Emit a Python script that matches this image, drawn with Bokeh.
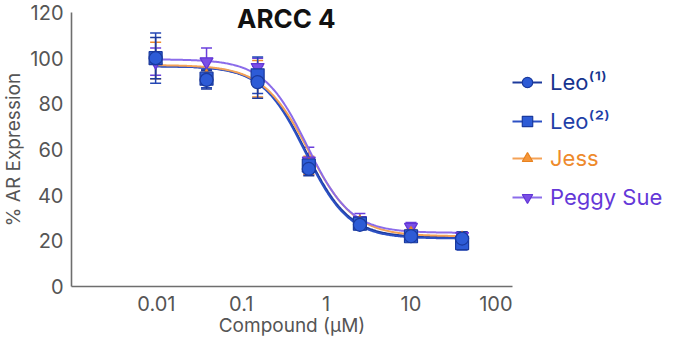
import numpy as np
from bokeh.plotting import figure
from bokeh.models import (ColumnDataSource, Whisker, TeeHead, Legend, LegendItem,
                          FixedTicker, Label)
from bokeh.embed import file_html
from bokeh.resources import INLINE

FONT = "Inter"

# ---- data ----
conc = [0.0098, 0.039, 0.156, 0.625, 2.5, 10.0, 40.0]

names = ["Leo⁽¹⁾", "Leo⁽²⁾", "Jess", "Peggy Sue"]
leo1 = [100.0, 90.5, 89.5, 51.5, 27.0, 22.0, 21.0]
leo2 = [100.0, 91.0, 92.5, 53.0, 27.5, 22.0, 19.0]
jess = [99.0, 92.0, 91.0, 53.0, 28.0, 23.0, 21.0]
peggy = [98.5, 98.5, 96.0, 55.0, 29.0, 26.0, 22.0]

leo1_err = [9.0, 4.0, 7.0, 3.0, 2.0, 2.0, 3.0]
leo2_err = [11.0, 4.0, 8.0, 3.0, 2.0, 2.0, 3.0]
jess_err = [8.0, 3.0, 8.0, 4.0, 2.0, 2.0, 2.0]
peggy_err = [6.0, 6.0, 4.0, 6.0, 3.0, 2.0, 2.0]

# 4-parameter logistic fit parameters (top, bottom, IC50, hill)
leo1_fit = [96.5, 21.5, 0.58, 1.7]
leo2_fit = [96.5, 21.0, 0.57, 1.7]
jess_fit = [97.0, 22.0, 0.62, 1.6]
peggy_fit = [99.5, 23.5, 0.60, 1.7]

x_ticks = [0.01, 0.1, 1, 10, 100]
x_tick_labels = ["0.01", "0.1", "1", "10", "100"]
y_ticks = [0, 20, 40, 60, 80, 100, 120]
x_axis_span = (0.001, 157)
y_axis_span = (0, 120)

series = [
    dict(name=names[0], y=leo1, err=leo1_err, fit=leo1_fit, marker="circle",
         line="#1d3a9c", fill="#2d5bd6", edge="#1a3a9e", err_col="#1d3a9c", text="#17348f"),
    dict(name=names[1], y=leo2, err=leo2_err, fit=leo2_fit, marker="square",
         line="#2c50c4", fill="#2d5bd6", edge="#1a3a9e", err_col="#2447b4", text="#1f3fa8"),
    dict(name=names[2], y=jess, err=jess_err, fit=jess_fit, marker="triangle",
         line="#f4a257", fill="#f5963a", edge="#e8821f", err_col="#ee8a2c", text="#ee8a2c"),
    dict(name=names[3], y=peggy, err=peggy_err, fit=peggy_fit, marker="inverted_triangle",
         line="#8b6cea", fill="#7a4fe6", edge="#6236d6", err_col="#6a3fdc", text="#6438d8"),
]

# ---- layout (canvas pixels); frame covers the whole canvas, axes sit at fixed locations ----
W, H = 668, 342
X0_PX, X1_PX = 71, 512      # canvas x of x-axis ends
Y120_PX, Y0_PX = 12, 286    # canvas y of 120 and of 0
dec_per_px = np.log10(x_axis_span[1] / x_axis_span[0]) / (X1_PX - X0_PX)
x_start = x_axis_span[0] / 10 ** (X0_PX * dec_per_px)
x_end = x_axis_span[0] * 10 ** ((W - X0_PX) * dec_per_px)
unit_per_px = (y_axis_span[1] - y_axis_span[0]) / (Y0_PX - Y120_PX)
y_end = y_axis_span[1] + Y120_PX * unit_per_px
y_start = y_axis_span[0] - (H - Y0_PX) * unit_per_px

p = figure(width=W, height=H, x_axis_type="log",
           x_range=(x_start, x_end), y_range=(y_start, y_end),
           output_backend="svg", toolbar_location=None, title=None,
           min_border=0)
p.outline_line_color = None
p.grid.visible = False
p.background_fill_color = "white"

for ax in (p.xaxis[0], p.yaxis[0]):
    ax.axis_line_color = "#6e6e6e"
    ax.axis_line_width = 1.6
    ax.major_tick_line_color = None
    ax.minor_tick_line_color = None
    ax.major_tick_out = 0
    ax.major_tick_in = 0
    ax.minor_tick_out = 0
    ax.minor_tick_in = 0
    ax.major_label_text_font = FONT
    ax.major_label_text_font_size = "20px"
    ax.major_label_text_color = "#555555"
    ax.axis_label_text_font = FONT
    ax.axis_label_text_font_size = "19px"
    ax.axis_label_text_font_style = "normal"
    ax.axis_label_text_color = "#555555"

p.xaxis.fixed_location = y_axis_span[0]
p.yaxis.fixed_location = x_axis_span[0]
p.xaxis.bounds = x_axis_span
p.yaxis.bounds = y_axis_span
p.xaxis.ticker = FixedTicker(ticks=x_ticks)
p.xaxis.major_label_overrides = {t: l for t, l in zip(x_ticks, x_tick_labels)}
p.xaxis.major_label_standoff = 9
p.xaxis.axis_label = "Compound (µM)"
p.xaxis.axis_label_standoff = 0
p.yaxis.ticker = FixedTicker(ticks=y_ticks)
p.yaxis.major_label_standoff = 8
p.yaxis.axis_label = "% AR Expression"
p.yaxis.axis_label_standoff = 2

xs_fit = np.logspace(np.log10(conc[0]), np.log10(conc[-1]), 300)

for s in series:
    top, bot, ic50, hill = s["fit"]
    yfit = bot + (top - bot) / (1.0 + (xs_fit / ic50) ** hill)
    s["lr"] = p.line(xs_fit, yfit, line_color=s["line"], line_width=2)

for s in series[::-1]:
    y = np.array(s["y"])
    e = np.array(s["err"])
    src = ColumnDataSource(dict(x=conc, y=s["y"], up=list(y + e), lo=list(y - e)))
    w = Whisker(source=src, base="x", upper="up", lower="lo", dimension="height",
                line_color=s["err_col"], line_width=1.5,
                upper_head=TeeHead(size=11, line_color=s["err_col"], line_width=1.5),
                lower_head=TeeHead(size=11, line_color=s["err_col"], line_width=1.5))
    p.add_layout(w)
    s["mr"] = p.scatter("x", "y", source=src, marker=s["marker"], size=13,
                        fill_color=s["fill"], line_color=s["edge"], line_width=1.2)

# legends (one per entry so each label keeps its own colour)
centers = [82, 121, 158, 197]  # canvas y of each entry
item_h = 26
for s, c in zip(series, centers):
    leg = Legend(items=[LegendItem(label=s["name"], renderers=[s["lr"], s["mr"]])],
                 location=(X1_PX, H - (c + item_h / 2)),
                 padding=0, margin=0, spacing=0,
                 border_line_alpha=0, background_fill_alpha=0,
                 glyph_width=30, glyph_height=item_h, label_height=item_h,
                 label_standoff=8,
                 label_text_font=FONT, label_text_font_size="22px",
                 label_text_color=s["text"])
    p.add_layout(leg, "center")

title = Label(x=0.34, y=117.5, text="ARCC 4", text_align="center", text_baseline="middle",
              text_font=FONT, text_font_size="26px", text_font_style="bold",
              text_color="#111111")
p.add_layout(title)

open("out.html", "w").write(file_html(p, INLINE))
